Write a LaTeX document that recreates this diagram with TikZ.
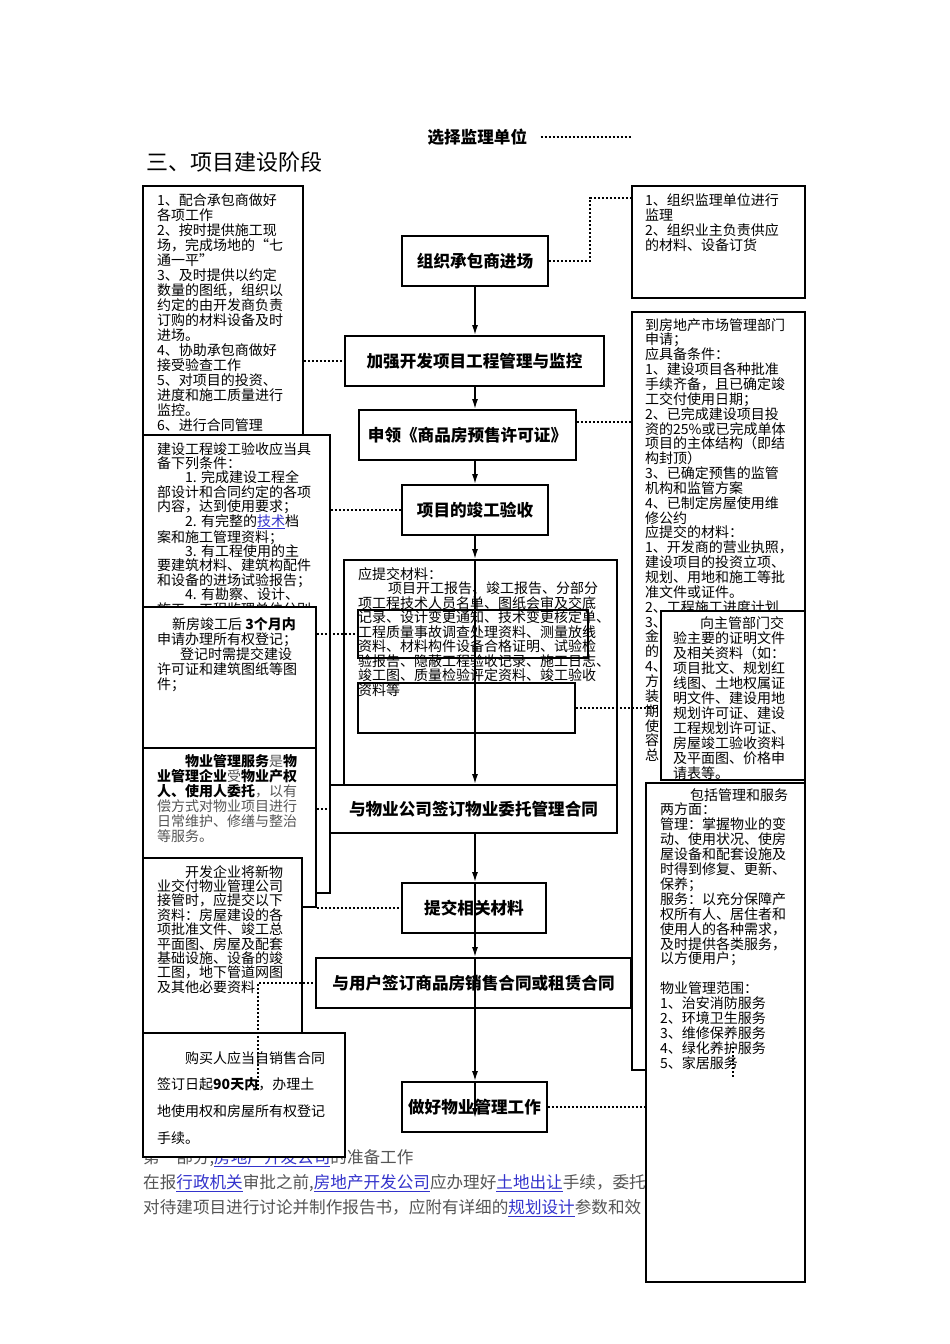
\documentclass[tikz,border=0pt]{standalone}
\usepackage{fontspec}
\setmainfont{Noto Sans CJK SC}
\usetikzlibrary{arrows.meta,positioning,calc}
\definecolor{linkblue}{RGB}{51,51,204}
\definecolor{bodygray}{RGB}{85,85,85}
\newcommand{\lnk}[1]{{\color{linkblue}\underline{#1}}}
\newcommand{\ind}[1][28pt]{\hspace*{#1}}
\newcommand{\bk}[1]{\textbf{\color{black}#1}}
\tikzset{
  flowbox/.style={draw, line width=1.8pt, fill=white, inner sep=0pt,
    font=\bfseries\fontsize{16.6}{18}\selectfont},
  notebox/.style={draw, line width=1.8pt, fill=white, inner sep=0pt},
  plainbox/.style={draw, line width=1.8pt, inner sep=0pt},
  notetext/.style={anchor=north west, align=left, inner sep=0pt},
  dotlink/.style={line width=2pt, dash pattern=on 2pt off 2pt},
  flowline/.style={line width=1.6pt, -{Latex[length=10pt,width=6pt]}}
}
\begin{document}
\begin{tikzpicture}[x=1pt, y=-1pt]
  \useasboundingbox[fill=white] (0,0) rectangle (950,1344);
  % headings
  \node[font=\bfseries\fontsize{16.6}{18}\selectfont, anchor=west] (sel) at (424,137) {选择监理单位};
  \node[font=\fontsize{22}{24}\selectfont, anchor=west] (stage) at (143,162) {三、项目建设阶段};
  \coordinate (selend) at (632,137);

  % left column
  \node[notebox, minimum width=160pt, minimum height=254pt] (l1) at (223,313) {};
  \node[notetext, font=\fontsize{14}{15}\selectfont] (l1t) at (157,193) {1、配合承包商做好\\各项工作\\2、按时提供施工现\\场，完成场地的“七\\通一平”\\3、及时提供以约定\\数量的图纸，组织以\\约定的由开发商负责\\订购的材料设备及时\\进场。\\4、协助承包商做好\\接受验查工作\\5、对项目的投资、\\进度和施工质量进行\\监控。\\6、进行合同管理};
  \node[notebox, minimum width=187pt, minimum height=458pt] (l2) at (236.5,664) {};
  \node[notetext, font=\fontsize{14}{14.4}\selectfont] (l2t) at (157,442) {建设工程竣工验收应当具\\备下列条件：\\\ind 1. 完成建设工程全\\部设计和合同约定的各项\\内容，达到使用要求；\\\ind 2. 有完整的\lnk{技术}档\\案和施工管理资料；\\\ind 3. 有工程使用的主\\要建筑材料、建筑构配件\\和设备的进场试验报告；\\\ind 4. 有勘察、设计、\\施工、工程监理单位分别};
  \node[notebox, minimum width=173pt, minimum height=141pt] (l3) at (229.5,677.5) {};
  \node[notetext, font=\fontsize{14}{15}\selectfont] (l3t) at (157,617) {\hspace*{15pt}新房竣工后 \textbf{3个月内}\\申请办理所有权登记；\\\hspace*{23pt}登记时需提交建设\\许可证和建筑图纸等图\\件；};
  \node[notebox, minimum width=173pt, minimum height=159pt] (l4) at (229.5,827.5) {};
  \node[notetext, text=bodygray, font=\fontsize{14}{15}\selectfont] (l4t) at (157,754) {\ind\bk{物业管理服务}是\bk{物}\\\bk{业管理企业}受\bk{物业产权}\\\bk{人、使用人委托}，以有\\偿方式对物业项目进行\\日常维护、修缮与整治\\等服务。};
  \node[notebox, minimum width=159pt, minimum height=182pt] (l5) at (222.5,949) {};
  \node[notetext, font=\fontsize{14}{14.4}\selectfont] (l5t) at (157,865) {\ind 开发企业将新物\\业交付物业管理公司\\接管时，应提交以下\\资料：房屋建设的各\\项批准文件、竣工总\\平面图、房屋及配套\\基础设施、设备的竣\\工图，地下管道网图\\及其他必要资料};
  \coordinate (l5end) at (258,983);
  \coordinate (l6in) at (258,1090);

  % page text under the chart
  \node[notetext, text=bodygray, font=\fontsize{16.6}{25}\selectfont] (para) at (143,1149) {第一部分,\lnk{房地产开发公司}的准备工作\\在报\lnk{行政机关}审批之前,\lnk{房地产开发公司}应办理好\lnk{土地出让}手续，委托\\对待建项目进行讨论并制作报告书，应附有详细的\lnk{规划设计}参数和效};

  \node[notebox, minimum width=202pt, minimum height=124pt] (l6) at (244,1095) {};
  \node[notetext, font=\fontsize{14}{26.7}\selectfont] (l6t) at (157,1051) {\ind 购买人应当自销售合同\\签订日起\textbf{90天内}，办理土\\地使用权和房屋所有权登记\\手续。};

  % right column
  \node[notebox, minimum width=173pt, minimum height=112pt] (r1) at (718.5,242) {};
  \node[notetext, font=\fontsize{14}{15}\selectfont] (r1t) at (645,193) {1、组织监理单位进行\\监理\\2、组织业主负责供应\\的材料、设备订货};
  \coordinate (r1bend) at (590,198);
  \node[notebox, minimum width=173pt, minimum height=758pt] (r2) at (718.5,691) {};
  \node[notetext, font=\fontsize{14}{14.85}\selectfont] (r2t) at (645,318) {到房地产市场管理部门\\申请；\\应具备条件：\\1、建设项目各种批准\\手续齐备，且已确定竣\\工交付使用日期；\\2、已完成建设项目投\\资的25\%或已完成单体\\项目的主体结构（即结\\构封顶）\\3、已确定预售的监管\\机构和监管方案\\4、已制定房屋使用维\\修公约\\应提交的材料：\\1、开发商的营业执照，\\建设项目的投资立项、\\规划、用地和施工等批\\准文件或证件。\\2、工程施工进度计划\\3、\\金\\的\\4、\\方\\装\\期\\使\\容\\总};
  \node[notebox, minimum width=144pt, minimum height=169pt] (r3) at (733,695.5) {};
  \node[notetext, font=\fontsize{14}{15}\selectfont] (r3t) at (673,616) {\hspace*{27pt}向主管部门交\\验主要的证明文件\\及相关资料（如：\\项目批文、规划红\\线图、土地权属证\\明文件、建设用地\\规划许可证、建设\\工程规划许可证、\\房屋竣工验收资料\\及平面图、价格申\\请表等。};
  \node[notebox, minimum width=159pt, minimum height=499pt] (r4) at (725.5,1032.5) {};
  \node[notetext, font=\fontsize{14}{14.9}\selectfont] (r4t) at (660,788) {\hspace*{30pt}包括管理和服务\\两方面：\\管理：掌握物业的变\\动、使用状况、使房\\屋设备和配套设施及\\时得到修复、更新、\\保养；\\服务：以充分保障产\\权所有人、居住者和\\使用人的各种需求，\\及时提供各类服务，\\以方便用户；\\\mbox{}\\物业管理范围：\\1、治安消防服务\\2、环境卫生服务\\3、维修保养服务\\4、绿化养护服务\\5、家居服务};
  \draw[dotlink] (733,1047) -- (733,1077);

  % materials box in the middle
  \node[notebox, minimum width=273pt, minimum height=225pt] (mat) at (480.5,672.5) {};
  \node[notetext, font=\fontsize{14}{14.5}\selectfont] (matt) at (358,567) {应提交材料：\\\hspace*{30pt}项目开工报告、竣工报告、分部分\\项工程技术人员名单、图纸会审及交底\\记录、设计变更通知、技术变更核定单、\\工程质量事故调查处理资料、测量放线\\资料、材料构件设备合格证明、试验检\\验报告、隐蔽工程验收记录、施工日志、\\竣工图、质量检验评定资料、竣工验收\\资料等};
  \node[plainbox, minimum width=230pt, minimum height=48pt] (i1) at (473,634) {};
  \node[plainbox, minimum width=217pt, minimum height=50pt] (i2) at (466.5,708) {};

  % main steps
  \node[flowbox, minimum width=146pt, minimum height=50pt] (b1) at (475,261) {组织承包商进场};
  \node[flowbox, minimum width=259pt, minimum height=50pt] (b2) at (474.5,361) {加强开发项目工程管理与监控};
  \node[flowbox, minimum width=217pt, minimum height=50pt] (b3) at (467.5,435) {申领《商品房预售许可证》};
  \node[flowbox, minimum width=146pt, minimum height=50pt] (b4) at (475,510) {项目的竣工验收};
  \node[flowbox, minimum width=287pt, minimum height=48pt] (b5) at (473.5,809) {与物业公司签订物业委托管理合同};
  \node[flowbox, minimum width=144pt, minimum height=50pt] (b6) at (474,908) {提交相关材料};
  \node[flowbox, minimum width=315pt, minimum height=50pt] (b7) at (473.5,983) {与用户签订商品房销售合同或租赁合同};
  \node[flowbox, minimum width=145pt, minimum height=50pt] (b8) at (474.5,1107) {做好物业管理工作};
  \coordinate (col) at (475,0);
  \coordinate (b8end) at (475,1118);
  \coordinate (b3out) at ($(b3.east)+(0,-13)$);

  % flow
  \draw[flowline] (b1.south) -- (col |- b2.north);
  \draw[flowline] (col |- b2.south) -- (col |- b3.north);
  \draw[flowline] (col |- b3.south) -- (col |- b4.north);
  \draw[flowline] (col |- b4.south) -- (col |- mat.north);
  \draw[flowline] (col |- mat.north) -- (col |- b5.north);
  \draw[flowline] (col |- b5.south) -- (col |- b6.north);
  \draw[flowline] (col |- b6.north) -- (col |- b7.north);
  \draw[flowline] (col |- b7.north) -- (col |- b8.north);
  \draw[flowline] (col |- b8.north) -- (b8end);

  % dotted links
  \draw[dotlink] ([xshift=10pt]sel.east) -- (selend);
  \draw[dotlink] (b1.east) -| (r1bend) -- (r1.west |- r1bend);
  \draw[dotlink] (l1.east |- b2.west) -- (b2.west);
  \draw[dotlink] (b3out) -- (r2.west |- b3out);
  \draw[dotlink] (l2.east |- b4.west) -- (b4.west);
  \draw[dotlink] (l3.east |- i1.west) -- (i1.west);
  \draw[dotlink] (i2.east) -- (r3.west |- i2.east);
  \draw[dotlink] (l4.east |- b5.west) -- (b5.west);
  \draw[dotlink] (l4.east |- b6.west) -- (b6.west);
  \draw[dotlink] (l6in) -- (l5end) -- (b7.west);
  \draw[dotlink] (b8.east) -- (r4.west |- b8.east);
\end{tikzpicture}
\end{document}
